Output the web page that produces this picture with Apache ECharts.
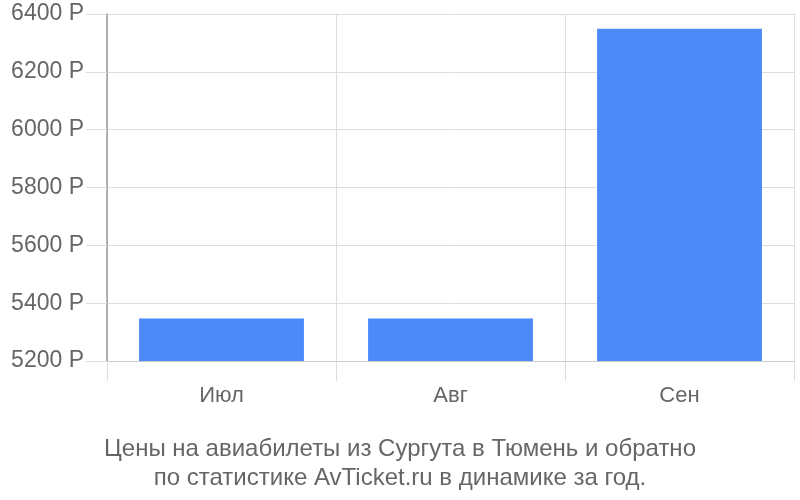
<!DOCTYPE html>
<html><head><meta charset="utf-8">
<script src="https://cdn.jsdelivr.net/npm/echarts@6/dist/echarts.min.js"></script>
<style>html,body{margin:0;padding:0;background:#fff}#c{width:800px;height:500px}</style>
</head><body><div id="c"></div>
<script>
const categories = ['Июл', 'Авг', 'Сен'];
const prices = [5347, 5347, 6349];
const yTicks = { min: 5200, max: 6400, interval: 200 };
const titleLines = ['Цены на авиабилеты из Сургута в Тюмень и обратно', 'по статистике AvTicket.ru в динамике за год.'];
const FONT = '"Liberation Sans", Arial, sans-serif';

const chart = echarts.init(document.getElementById('c'));
chart.setOption({
  animation: false,
  textStyle: { fontFamily: FONT },
  title: {
    text: titleLines.join('\n'),
    left: 'center',
    top: 430,
    textStyle: { fontFamily: FONT, fontSize: 24, fontWeight: 'normal', color: '#666', lineHeight: 29 }
  },
  grid: { left: 107, right: 6, top: 14, bottom: 139, containLabel: false },
  xAxis: {
    type: 'category',
    data: categories,
    boundaryGap: true,
    axisLine: { lineStyle: { color: '#ccc', width: 1 } },
    axisTick: { show: true, length: 20, lineStyle: { color: '#ddd' } },
    splitLine: { show: true, lineStyle: { color: '#ddd' } },
    axisLabel: { color: '#666', fontSize: 22, margin: 24, fontFamily: FONT }
  },
  yAxis: {
    type: 'value',
    min: yTicks.min, max: yTicks.max, interval: yTicks.interval,
    axisLine: { show: true, lineStyle: { color: '#999', width: 1.5 } },
    axisTick: { show: true, length: 21, lineStyle: { color: '#ddd' } },
    splitLine: { show: true, lineStyle: { color: '#ddd' } },
    axisLabel: { color: '#666', fontSize: 23, margin: 23, fontFamily: FONT, formatter: v => v + ' Р' }
  },
  series: [{
    type: 'bar',
    data: prices,
    barWidth: '72%',
    itemStyle: { color: '#4d8af9' }
  }]
});
</script></body></html>
